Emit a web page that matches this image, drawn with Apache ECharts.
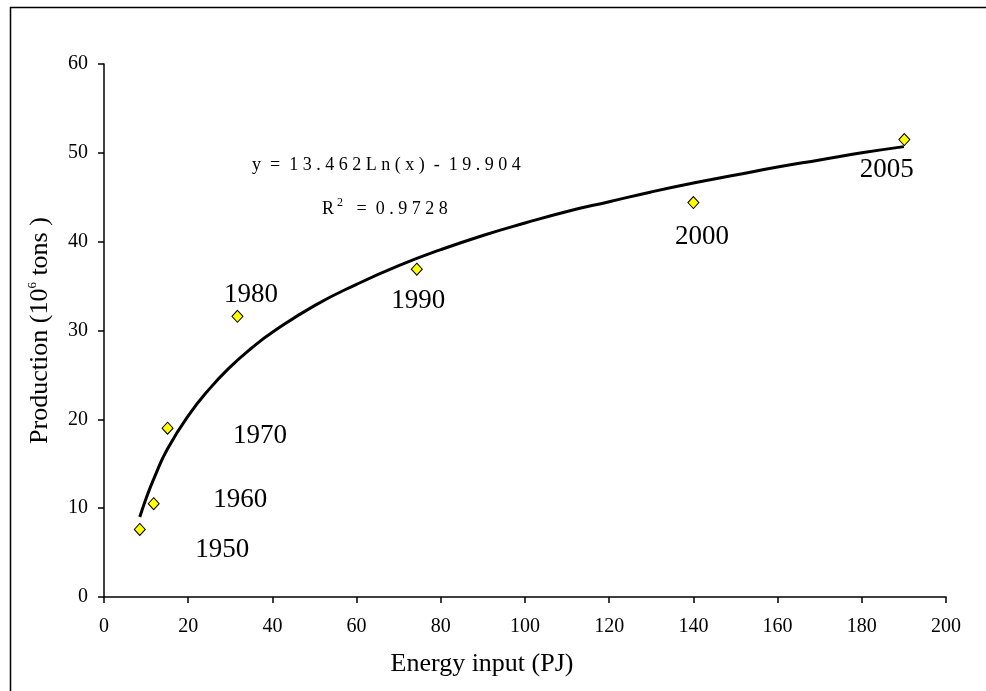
<!DOCTYPE html>
<html>
<head>
<meta charset="utf-8">
<script src="https://cdn.jsdelivr.net/npm/echarts@6/dist/echarts.min.js"></script>
<style>
  html, body { margin: 0; padding: 0; background: #fff; }
  #chart { width: 986px; height: 691px; }
</style>
</head>
<body>
<div id="chart"></div>
<script>
// 年份与观测点
const years = ['1950', '1960', '1970', '1980', '1990', '2000', '2005'];
const energyInput = [8.5, 11.8, 15.1, 31.7, 74.3, 140.0, 190.1];
const production = [7.6, 10.5, 19.0, 31.6, 36.9, 44.4, 51.5];

// 趋势线
const trendX = [8.5, 10, 12, 15, 20, 25, 30, 35, 40, 50, 60, 70, 80, 90, 100, 110, 120, 130, 140, 150, 160, 170, 180, 190];
const trendY = [9.0, 11.1, 13.5, 16.6, 20.4, 23.4, 25.9, 28.0, 29.8, 32.8, 35.2, 37.3, 39.1, 40.7, 42.1, 43.4, 44.5, 45.6, 46.6, 47.5, 48.4, 49.2, 50.0, 50.7];

// 标签相对位置（像素）
const labelOffsets = [[83, 21], [87, -3], [93, 8], [14, -21], [2, 32], [9, 35], [-17, 31]];

const FONT = '"Liberation Serif", "Times New Roman", serif';
const SYMBOL_SIZE = [11, 12];

const chart = echarts.init(document.getElementById('chart'));

const option = {
  backgroundColor: '#fff',
  animation: false,
  grid: { left: 104, right: 40, top: 64, bottom: 94 },
  xAxis: {
    type: 'value',
    min: 0, max: 200, interval: 20,
    name: 'Energy input (PJ)',
    nameLocation: 'middle',
    nameGap: 54,
    nameTextStyle: { fontFamily: FONT, fontSize: 26, color: '#000', padding: [0, 86, 0, 0] },
    axisLine: { lineStyle: { color: '#000', width: 1.5 } },
    axisTick: { length: 6, lineStyle: { color: '#000', width: 1.5 } },
    axisLabel: { fontFamily: FONT, fontSize: 20, color: '#000', margin: 20 },
    splitLine: { show: false }
  },
  yAxis: {
    type: 'value',
    min: 0, max: 60, interval: 10,
    name: '{a|Production (10}{s|6}{a| tons )}',
    nameLocation: 'middle',
    nameGap: 50,
    nameTextStyle: {
      fontFamily: FONT, color: '#000',
      rich: {
        a: { fontFamily: FONT, fontSize: 26, color: '#000', lineHeight: 28 },
        s: { fontFamily: FONT, fontSize: 13, color: '#000', verticalAlign: 'top', lineHeight: 28 }
      }
    },
    axisLine: { lineStyle: { color: '#000', width: 1.5 } },
    axisTick: { length: 6, lineStyle: { color: '#000', width: 1.5 } },
    axisLabel: { fontFamily: FONT, fontSize: 20, color: '#000', margin: 16 },
    splitLine: { show: false }
  },
  graphic: [
    {
      type: 'rect', left: 8, top: 5, z: -10, silent: true,
      shape: { width: 1000, height: 720 },
      style: { fill: 'none', stroke: '#000', lineWidth: 1.5 }
    },
    {
      type: 'text', left: 252, top: 156, silent: true,
      style: {
        text: 'y  =  1 3 . 4 6 2 L n ( x )  -  1 9 . 9 0 4',
        font: '18px ' + FONT, fill: '#000'
      }
    },
    {
      type: 'text', left: 322, top: 197, silent: true,
      style: {
        text: '{a|R}{s| 2}{a|   =  0 . 9 7 2 8}',
        fill: '#000',
        rich: {
          a: { fontFamily: FONT, fontSize: 18, color: '#000', lineHeight: 24 },
          s: { fontFamily: FONT, fontSize: 12, color: '#000', verticalAlign: 'top', lineHeight: 24 }
        }
      }
    }
  ],
  series: [
    {
      name: 'trend',
      type: 'line',
      data: trendX.map((x, i) => [x, trendY[i]]),
      smooth: true,
      showSymbol: false,
      lineStyle: { color: '#000', width: 3 },
      z: 2
    },
    {
      name: 'obs',
      type: 'scatter',
      symbol: 'diamond',
      symbolSize: SYMBOL_SIZE,
      itemStyle: { color: '#FFFF00', borderColor: '#000', borderWidth: 1, opacity: 1 },
      data: energyInput.map((x, i) => ({
        value: [x, production[i]],
        label: {
          show: true,
          position: [SYMBOL_SIZE[0] / 2 + labelOffsets[i][0], SYMBOL_SIZE[1] / 2 + labelOffsets[i][1]],
          align: 'center',
          verticalAlign: 'middle',
          formatter: years[i],
          fontFamily: FONT,
          fontSize: 27,
          color: '#000',
          opacity: 1,
          textBorderWidth: 0
        }
      })),
      z: 3
    }
  ]
};

chart.setOption(option);
</script>
</body>
</html>
